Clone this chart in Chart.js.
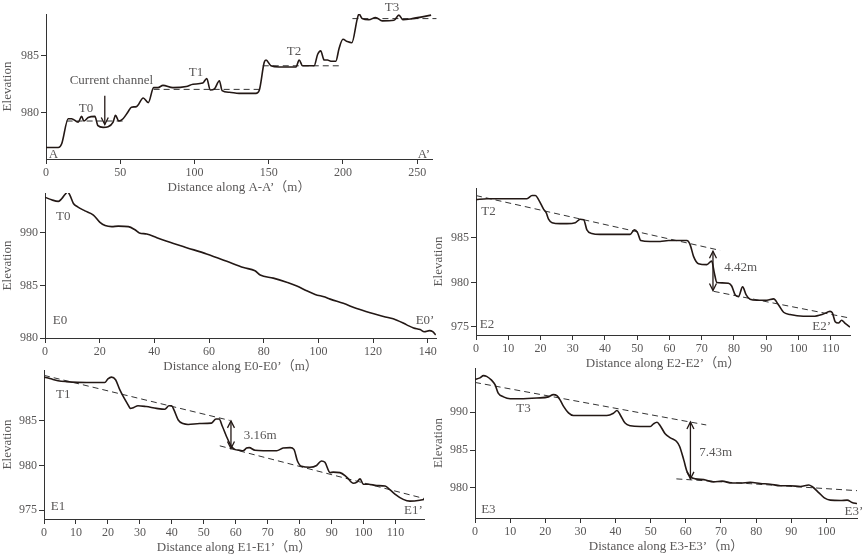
<!DOCTYPE html>
<html>
<head>
<meta charset="utf-8">
<script src="https://cdn.jsdelivr.net/npm/chart.js@4.4.1/dist/chart.umd.min.js"></script>
<style>
  body { margin: 0; background: #fff; width: 865px; height: 557px; position: relative; overflow: hidden; }
  canvas { position: absolute; left: 0; top: 0; }
</style>
</head>
<body>
<canvas id="cA" width="865" height="557"></canvas>
<canvas id="cE0" width="865" height="557"></canvas>
<canvas id="cE2" width="865" height="557"></canvas>
<canvas id="cE1" width="865" height="557"></canvas>
<canvas id="cE3" width="865" height="557"></canvas>
<script>
// ---- profile A-A'
const aDist = [0, 8.3, 10.5, 15, 17.2, 21.7, 24, 25.5, 28.4, 32.9, 35, 38.5, 41.8, 45.2, 46.8, 49, 51.9, 55.3, 57.5, 60.9, 65.5, 68.9, 72.5, 75.4, 78.8, 85.5, 94.5, 99, 105.6, 108.3, 110.6, 113.5, 116.8, 118.6, 123.5, 130, 141.4, 143.6, 147, 148.2, 151.5, 157, 168.4, 170.5, 172.8, 180.6, 183, 185, 187.4, 189.6, 191.9, 195.2, 197.4, 200, 203, 206, 209.7, 210.8, 213, 217.5, 222, 226.5, 234.4, 237.7, 240.4, 246.7, 259.4];
const aElev = [977, 977, 977.3, 979.5, 979.5, 979.2, 979.7, 979.3, 979.6, 979.7, 978.9, 978.75, 978.8, 979.2, 979.8, 979.3, 979.5, 980.1, 980.5, 980.55, 981.3, 980.9, 982.2, 982.2, 982.4, 982.2, 982.3, 982.5, 982.6, 983.0, 982.0, 982.1, 982.8, 981.95, 981.8, 981.7, 981.7, 981.95, 984.4, 984.6, 984.1, 984.0, 984.0, 984.6, 984.1, 984.1, 985.1, 985.4, 984.6, 984.6, 984.5, 984.5, 985.6, 986.4, 986.2, 986.1, 988.2, 988.6, 988.2, 988.1, 988.3, 988.0, 988.05, 988.5, 988.1, 988.2, 988.5];
const aTerraces = [[13.9, 53.7, 979.3, 979.3], [72.5, 146, 982.05, 982.05], [146, 198.5, 984.1, 984.1], [206.4, 263, 988.2, 988.2]];
const aXTicks = [0, 50, 100, 150, 200, 250];
const aYTicks = [980, 985];

// ---- profile E0-E0'
const e0Dist = [0, 2.4, 4.9, 6.1, 7.3, 8.3, 9.1, 10.4, 11.8, 14.6, 17.7, 20.1, 22, 24.4, 26.8, 30.5, 32.9, 34.5, 37.2, 40.9, 47, 51.8, 59.1, 66.5, 72.6, 76.8, 78.7, 83.5, 88.4, 92.1, 95.7, 98.8, 102.4, 104.3, 109.1, 114, 118.9, 123.8, 128.7, 132.3, 134.8, 137.2, 138.7, 140.6, 141.8, 142.9];
const e0Elev = [993.4, 993.15, 993.0, 993.25, 993.66, 993.9, 993.6, 992.8, 992.5, 992.1, 991.7, 991.0, 990.7, 990.6, 990.65, 990.6, 990.3, 990.0, 989.9, 989.55, 989.0, 988.6, 988.0, 987.3, 986.7, 986.4, 986.0, 985.7, 985.3, 984.95, 984.5, 984.15, 983.9, 983.7, 983.3, 982.8, 982.4, 982.05, 981.7, 981.25, 980.95, 980.8, 980.6, 980.7, 980.6, 980.3];
const e0XTicks = [0, 20, 40, 60, 80, 100, 120, 140];
const e0YTicks = [980, 985, 990];

// ---- profile E2-E2'
const e2Dist = [0, 3.4, 15.8, 17.4, 18.4, 19.4, 21, 21.8, 22.5, 23.6, 26.1, 28.2, 30.8, 32.3, 33.4, 34.4, 35.9, 38.5, 44.7, 47.8, 49.1, 50.1, 51.1, 54, 57.1, 59.7, 61.8, 65.4, 66.4, 67.5, 69, 71.6, 73.1, 73.9, 74.7, 76.3, 78.3, 79.3, 80.4, 81.4, 82.7, 83.8, 85, 87.1, 90.2, 92.3, 93.8, 95.4, 97.4, 101.5, 104.6, 107.7, 109.8, 110.5, 111.4, 112.4, 113.4, 114.5, 116];
const e2Elev = [989.3, 989.4, 989.4, 989.75, 989.75, 989.3, 988.2, 987.8, 987.1, 986.7, 986.6, 986.6, 986.7, 987.1, 987.05, 985.9, 985.5, 985.4, 985.4, 985.4, 985.9, 985.6, 984.7, 984.6, 984.6, 984.7, 984.7, 984.7, 984.25, 982.9, 982.1, 982.0, 982.4, 981.1, 980.0, 979.95, 979.9, 979.6, 978.6, 978.4, 979.5, 978.6, 978.1, 978.0, 978.0, 978.15, 977.5, 976.65, 976.4, 976.2, 976.2, 976.45, 976.75, 976.6, 975.6, 975.45, 975.75, 975.4, 975.0];
const e2Trends = [[0, 75.7, 989.75, 983.6], [73.7, 116, 979.0, 976.0]];
const e2XTicks = [0, 10, 20, 30, 40, 50, 60, 70, 80, 90, 100, 110];
const e2YTicks = [975, 980, 985];

// ---- profile E1-E1'
const e1Dist = [0, 1.8, 4.4, 7, 13.3, 19, 20, 21.1, 22.4, 23.7, 25, 26.3, 27, 28.1, 29.4, 32, 35.2, 37.8, 39.1, 39.9, 40.7, 42, 43.5, 45.1, 48.7, 52.4, 53.8, 54.8, 55.8, 57.1, 58.7, 59.7, 61.3, 62.3, 63.4, 64.2, 66, 68.6, 72.8, 74.8, 77, 78.2, 79.3, 80.6, 83.2, 85.3, 86.8, 87.9, 89.5, 90.5, 92.6, 94.7, 96.8, 97.8, 98.9, 99.9, 101.5, 104.1, 106.7, 108.2, 109.8, 112.4, 114.5, 117.6, 118.9];
const e1Elev = [989.9, 989.75, 989.5, 989.4, 989.3, 989.3, 989.7, 989.9, 989.6, 988.5, 987.6, 986.8, 986.4, 986.5, 986.7, 986.6, 986.4, 986.3, 986.7, 986.7, 986.2, 985.1, 984.7, 984.6, 984.7, 984.75, 985.2, 985.2, 984.4, 983.25, 982.1, 981.8, 981.7, 981.65, 981.95, 982.0, 981.7, 981.65, 981.65, 981.95, 982.0, 981.8, 980.5, 979.9, 979.8, 980.0, 980.5, 980.35, 979.2, 979.25, 979.2, 978.7, 978.0, 978.1, 978.5, 977.9, 977.9, 977.75, 977.7, 977.3, 976.8, 976.2, 976.0, 976.1, 976.2];
const e1Trends = [[0, 58.1, 990.1, 985.05], [55, 118.9, 982.2, 976.3]];
const e1XTicks = [0, 10, 20, 30, 40, 50, 60, 70, 80, 90, 100, 110];
const e1YTicks = [975, 980, 985];

// ---- profile E3-E3'
const e3Dist = [0, 1.4, 2.4, 3.3, 4.7, 5.7, 6.6, 8.1, 10, 12.8, 17.6, 20.9, 22.3, 23.3, 24.2, 25.2, 26.6, 28, 31.8, 37.5, 39.4, 40.4, 41.3, 42.7, 44.2, 47, 49.9, 50.8, 51.8, 52.7, 54.1, 55.6, 57.3, 58.2, 59.4, 60.3, 61.3, 62.7, 65.1, 67.9, 70.3, 73.1, 75.5, 78.3, 81.2, 84, 86.9, 89.7, 92.6, 95, 95.9, 97.8, 99.4, 101.1, 104, 105.9, 107.3, 108.7];
const e3Elev = [994.3, 994.5, 994.8, 994.7, 994.2, 993.6, 992.5, 992.0, 991.75, 991.75, 991.85, 992.0, 992.3, 992.15, 991.6, 990.75, 989.9, 989.55, 989.55, 989.55, 989.85, 990.2, 989.65, 988.55, 988.2, 988.1, 988.1, 988.45, 988.65, 988.2, 987.15, 986.6, 986.15, 985.5, 983.7, 982.2, 981.5, 981.2, 981.1, 980.8, 980.9, 980.65, 980.65, 980.75, 980.6, 980.5, 980.3, 980.3, 980.2, 980.4, 980.2, 979.4, 978.7, 978.4, 978.35, 978.4, 978.1, 977.95];
const e3Trends = [[0, 65.8, 993.9, 988.3], [57.3, 108.7, 981.2, 979.65]];
const e3XTicks = [0, 10, 20, 30, 40, 50, 60, 70, 80, 90, 100];
const e3YTicks = [980, 985, 990];

const SERIF = '"Liberation Serif", "Noto Sans CJK SC", serif';
const TXT = '#595757';
const INK = '#231815';

// text labels and arrows, drawn through the chart scales
const notePlugin = {
  id: 'notes',
  afterDatasetsDraw(chart, args, opts) {
    const { ctx } = chart;
    const xs = chart.scales.x, ys = chart.scales.y;
    ctx.save();
    ctx.font = '13px ' + SERIF;
    ctx.fillStyle = TXT;
    ctx.textBaseline = 'middle';
    (opts.labels || []).forEach(l => {
      ctx.textAlign = l[3] || 'center';
      ctx.fillText(l[0], xs.getPixelForValue(l[1]), ys.getPixelForValue(l[2]));
    });
    ctx.strokeStyle = INK;
    ctx.lineWidth = 1.3;
    (opts.arrows || []).forEach(a => {
      const px = xs.getPixelForValue(a[0]);
      const p1 = ys.getPixelForValue(a[1]);
      const p2 = ys.getPixelForValue(a[2]);
      ctx.beginPath();
      ctx.moveTo(px, p1); ctx.lineTo(px, p2);
      ctx.stroke();
      const head = (py, dir) => {
        ctx.beginPath();
        ctx.moveTo(px - 3.5, py - dir * 7);
        ctx.lineTo(px, py);
        ctx.lineTo(px + 3.5, py - dir * 7);
        ctx.stroke();
      };
      head(p2, p2 > p1 ? 1 : -1);
      if (a[3]) head(p1, p1 > p2 ? 1 : -1);
    });
    ctx.restore();
  }
};

function pts(xs, ys) { return xs.map((x, i) => ({ x: x, y: ys[i] })); }

function dashSets(lines) {
  return lines.map(l => ({
    data: [{ x: l[0], y: l[2] }, { x: l[1], y: l[3] }],
    borderColor: '#333', borderWidth: 1, borderDash: [6, 4],
    pointRadius: 0, clip: false, tension: 0
  }));
}

function axis(min, max, ticks, title, kind, size) {
  return {
    type: 'linear', min: min, max: max,
    afterBuildTicks: s => { s.ticks = ticks.map(v => ({ value: v })); },
    afterFit: s => { if (kind === 'x') s.height = size; else s.width = size; },
    grid: { display: true, drawOnChartArea: false, drawTicks: true, tickLength: 5, color: '#333', tickColor: '#333' },
    border: { display: true, color: '#333', width: 1 },
    ticks: { autoSkip: false, maxRotation: 0, padding: 2, color: TXT, font: { family: SERIF, size: 12 } },
    title: { display: true, text: title, color: TXT, padding: 0, font: { family: SERIF, size: 13 } }
  };
}

// box: [left, top, right, bottom, title left]
function panel(id, box, prof, trends, xr, yr, xTitle, notes) {
  const [L, T, R, B, TL] = box;
  new Chart(document.getElementById(id), {
    type: 'line',
    data: {
      datasets: [{
        data: prof, borderColor: INK, borderWidth: 1.6, pointRadius: 0,
        cubicInterpolationMode: 'monotone'
      }].concat(dashSets(trends))
    },
    options: {
      responsive: false, animation: false, devicePixelRatio: 1,
      layout: { padding: { left: TL, top: T, right: 865 - R, bottom: 557 - B - 36 } },
      plugins: { legend: { display: false }, tooltip: { enabled: false }, notes: notes },
      scales: {
        x: axis(xr[0], xr[1], xr[2], xTitle, 'x', 36),
        y: axis(yr[0], yr[1], yr[2], 'Elevation', 'y', L - TL)
      }
    },
    plugins: [notePlugin]
  });
}

panel('cA', [46, 14, 432, 159, 0], pts(aDist, aElev), aTerraces,
  [0, 260, aXTicks], [976, 988.6, aYTicks], 'Distance along A-A’（m）',
  { labels: [['T0', 27, 980.4], ['T1', 101, 983.5], ['T2', 167, 985.35], ['T3', 233, 989.2],
             ['Current channel', 44, 982.8], ['A', 5, 976.4], ['A’', 254.5, 976.4]],
    arrows: [[39.6, 981.5, 979.0, false]] });

panel('cE0', [45, 193, 436, 338, 0], pts(e0Dist, e0Elev), [],
  [0, 143, e0XTicks], [980, 993.8, e0YTicks], 'Distance along E0-E0’（m）',
  { labels: [['T0', 6.7, 991.6], ['E0', 5.5, 981.7], ['E0’', 139, 981.7]], arrows: [] });

panel('cE2', [476, 188, 850, 335, 430.5], pts(e2Dist, e2Elev), e2Trends,
  [0, 116, e2XTicks], [974.1, 990.6, e2YTicks], 'Distance along E2-E2’（m）',
  { labels: [['T2', 3.9, 988], ['E2', 3.4, 975.3], ['E2’', 107.2, 975.1], ['4.42m', 77, 981.7, 'left']],
    arrows: [[73.5, 983.5, 979.1, true]] });

panel('cE1', [44, 370, 424, 519, 0], pts(e1Dist, e1Elev), e1Trends,
  [0, 118.9, e1XTicks], [974, 990.7, e1YTicks], 'Distance along E1-E1’（m）',
  { labels: [['T1', 6, 987.9], ['E1', 4.4, 975.4], ['E1’', 115.6, 974.9], ['3.16m', 62.5, 983.3, 'left']],
    arrows: [[58.5, 985, 981.9, true]] });

panel('cE3', [475, 368, 857, 518, 430.5], pts(e3Dist, e3Elev), e3Trends,
  [0, 108.7, e3XTicks], [976.05, 995.8, e3YTicks], 'Distance along E3-E3’（m）',
  { labels: [['T3', 13.8, 990.4], ['E3', 3.8, 977.2], ['E3’', 107.8, 976.9], ['7.43m', 63.8, 984.6, 'left']],
    arrows: [[61.3, 988.7, 981.2, true]] });
</script>
</body>
</html>
